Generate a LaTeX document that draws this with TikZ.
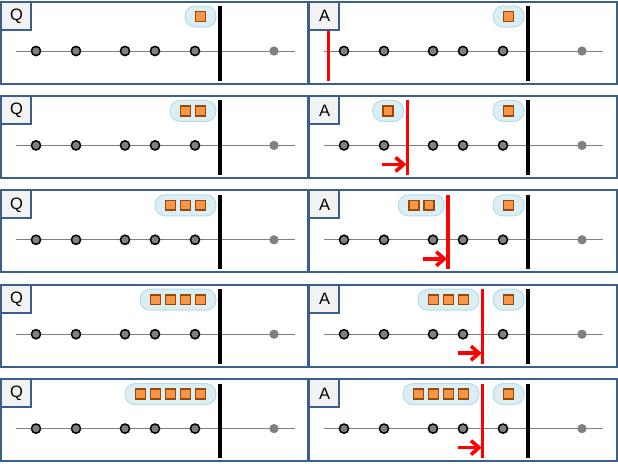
\documentclass[tikz,border=0pt]{standalone}
\usepackage{fontspec}
\setmainfont{Liberation Sans}
\usetikzlibrary{arrows.meta}
\definecolor{panelblue}{HTML}{3A5F8B}
\definecolor{labelfill}{HTML}{F2F2F2}
\definecolor{pillfill}{HTML}{DAEEF3}
\definecolor{pillline}{HTML}{B7DDE8}
\definecolor{sqfill}{HTML}{F79646}
\definecolor{sqline}{HTML}{984807}
\definecolor{dotgray}{HTML}{808080}
\tikzset{
 panel/.style={draw=panelblue, line width=2pt, fill=white, outer sep=0pt, inner sep=0pt, anchor=north west},
 labelbox/.style={draw=panelblue, line width=2pt, fill=labelfill, minimum width=30pt, minimum height=28pt, inner sep=0pt, outer sep=0pt, anchor=north west},
 labeltext/.style={font=\fontsize{16.5}{16.5}\selectfont, inner sep=0pt},
 dotnode/.style={circle, draw=black, line width=1.5pt, fill=dotgray, minimum size=9.2pt, inner sep=0pt},
 enddot/.style={circle, fill=dotgray, minimum size=9.3pt, inner sep=0pt},
 axisline/.style={draw=dotgray, line width=1pt},
 blackbar/.style={line width=4pt, black},
 redbar/.style={line width=3.2pt, red},
 redarrow/.style={line width=3.6pt, red, -{Straight Barb[length=8pt,width=14pt]}},
 pill/.style={draw=pillline, line width=1pt, fill=pillfill, rounded corners=10pt, minimum height=21pt, inner sep=0pt},
 sq/.style={draw=sqline, line width=1.6pt, fill=sqfill, minimum size=9.8pt, inner sep=0pt},
}
\newcommand{\mypill}[4]{%
 \pgfmathsetmacro{\pw}{31+15*(#4-1)}%
 \node[pill, minimum width=\pw pt] (#1) at ({#2-\pw/2},#3) {};
 \foreach \i in {1,...,#4} { \node[sq] (#1-\i) at ({#2-15.5-15*(#4-\i)},#3) {}; }
}
\begin{document}
\begin{tikzpicture}[x=1pt,y=-1pt]
\useasboundingbox (0,0) rectangle (618,463);
\fill[white] (0,0) rectangle (618,463);
\foreach \k/\m/\rx in {1/0/20.7, 2/1/99.3, 3/2/140, 4/3/174.7, 5/4/174.7} {
 \pgfmathsetmacro{\top}{1.5+94.4*(\k-1)}
 % Q panel
 \node[panel, minimum width=307pt, minimum height=82pt] (Q\k) at (1,\top) {};
 \coordinate (q\k-ls) at (16,{\top+49.5});
 \coordinate (q\k-le) at (295,{\top+49.5});
 \draw[axisline] (q\k-ls) -- (q\k-le);
 \foreach \dx [count=\j] in {36,76,125,155,195} { \node[dotnode] (q\k-d\j) at (\dx,{\top+49.5}) {}; }
 \node[enddot] (q\k-e) at (274,{\top+49.5}) {};
 \coordinate (q\k-bt) at (219.5,{\top+4.5});
 \coordinate (q\k-bb) at (219.5,{\top+79});
 \draw[blackbar] (q\k-bt) -- (q\k-bb);
 \mypill{q\k-p}{216}{\top+15}{\k}
 \node[labelbox] (QL\k) at (1,\top) {};
 \node[labeltext] (QT\k) at (16.5,{\top+14.5}) {Q};
 % A panel
 \node[panel, minimum width=308pt, minimum height=82pt] (A\k) at (309,\top) {};
 \coordinate (a\k-ls) at (324,{\top+49.5});
 \coordinate (a\k-le) at (603,{\top+49.5});
 \draw[axisline] (a\k-ls) -- (a\k-le);
 \foreach \dx [count=\j] in {36,76,125,155,195} { \node[dotnode] (a\k-d\j) at ({308+\dx},{\top+49.5}) {}; }
 \node[enddot] (a\k-e) at (582,{\top+49.5}) {};
 \coordinate (a\k-bt) at (527.5,{\top+4.5});
 \coordinate (a\k-bb) at (527.5,{\top+79});
 \draw[blackbar] (a\k-bt) -- (a\k-bb);
 \mypill{a\k-p}{524}{\top+15}{1}
 \coordinate (a\k-rt) at ({308+\rx},{\top+4.5});
 \coordinate (a\k-rb) at ({308+\rx},{\top+79});
 \draw[redbar] (a\k-rt) -- (a\k-rb);
 \ifnum\m>0
  \mypill{a\k-lp}{308+\rx-3.7}{\top+15}{\m}
  \coordinate (a\k-as) at ({308+\rx-25},{\top+68.5});
  \coordinate (a\k-ae) at ({308+\rx-1},{\top+68.5});
  \draw[redarrow] (a\k-as) -- (a\k-ae);
 \fi
 \node[labelbox] (AL\k) at (309,\top) {};
 \node[labeltext] (AT\k) at (324.5,{\top+14.5}) {A};
}
\end{tikzpicture}
\end{document}
